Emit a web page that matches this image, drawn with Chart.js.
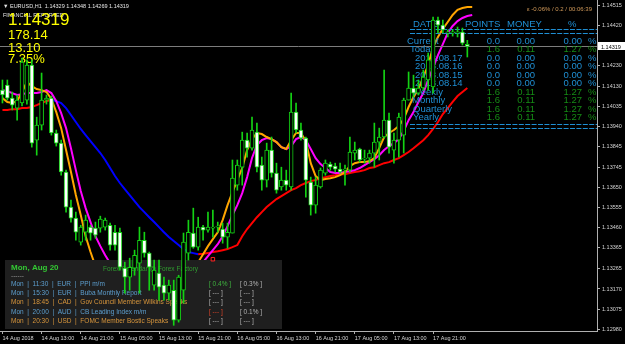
<!DOCTYPE html>
<html>
<head>
<meta charset="utf-8">
<script src="https://cdn.jsdelivr.net/npm/chart.js@4.4.1/dist/chart.umd.min.js"></script>
<style>
  html, body { margin: 0; padding: 0; background: #000; overflow: hidden; }
</style>
</head>
<body>
<canvas id="c" width="625" height="344"></canvas>
<script>
// EURUSD H1 candles, 14 Aug 05:00 .. 20 Aug 04:00
const opens = [
  1.14112, 1.14136, 1.14074, 1.14027, 1.14051, 1.14065, 1.14231, 1.13875, 1.13946, 1.14065,
  1.14074, 1.13909, 1.13861, 1.13724, 1.13558, 1.13506, 1.13392, 1.13439, 1.13463, 1.13458,
  1.13458, 1.13463, 1.13472, 1.13439, 1.13439, 1.13269, 1.13226, 1.13269, 1.13292, 1.13401,
  1.13340, 1.13188, 1.13245, 1.13188, 1.13150, 1.13164, 1.13022, 1.13164, 1.13340, 1.13435,
  1.13368, 1.13463, 1.13449, 1.13458, 1.13463, 1.13454, 1.13416, 1.13435, 1.13662, 1.13747,
  1.13875, 1.13837, 1.13913, 1.13757, 1.13686, 1.13828, 1.13719, 1.13653, 1.13686, 1.13653,
  1.14008, 1.13923, 1.13885, 1.13676, 1.13567, 1.13653, 1.13719, 1.13762, 1.13752, 1.13738,
  1.13733, 1.13733, 1.13814, 1.13833, 1.13785, 1.13790, 1.13814, 1.13866, 1.13890, 1.13970,
  1.13828, 1.13875, 1.13899, 1.14065, 1.14122, 1.14098, 1.14122, 1.14160, 1.14127, 1.14444,
  1.14420, 1.14383, 1.14383, 1.14383, 1.14387, 1.14329
];
const highs = [
  1.14160, 1.14160, 1.14103, 1.14089, 1.14264, 1.14255, 1.14255, 1.13984, 1.14193, 1.14089,
  1.14084, 1.13923, 1.13875, 1.13733, 1.13591, 1.13534, 1.13472, 1.13520, 1.13472, 1.13487,
  1.13515, 1.13506, 1.13482, 1.13472, 1.13458, 1.13297, 1.13316, 1.13354, 1.13463, 1.13439,
  1.13345, 1.13307, 1.13307, 1.13226, 1.13212, 1.13212, 1.13235, 1.13435, 1.13496, 1.13553,
  1.13510, 1.13472, 1.13534, 1.13544, 1.13487, 1.13482, 1.13482, 1.13781, 1.13781, 1.13913,
  1.13909, 1.13984, 1.13956, 1.13795, 1.13861, 1.13890, 1.13766, 1.13747, 1.13733, 1.14098,
  1.14051, 1.13956, 1.13890, 1.13700, 1.13700, 1.13743, 1.13781, 1.13771, 1.13766, 1.13766,
  1.13757, 1.13890, 1.13866, 1.13837, 1.13828, 1.13828, 1.13956, 1.13932, 1.14207, 1.14003,
  1.13909, 1.14003, 1.14074, 1.14198, 1.14183, 1.14160, 1.14207, 1.14288, 1.14458, 1.14458,
  1.14444, 1.14397, 1.14397, 1.14411, 1.14406, 1.14348
];
const lows = [
  1.14051, 1.14065, 1.14018, 1.13970, 1.14037, 1.14046, 1.13842, 1.13804, 1.13923, 1.14046,
  1.13899, 1.13847, 1.13709, 1.13534, 1.13487, 1.13401, 1.13378, 1.13401, 1.13401, 1.13411,
  1.13439, 1.13449, 1.13354, 1.13354, 1.13259, 1.13150, 1.13164, 1.13235, 1.13150, 1.13321,
  1.13164, 1.13164, 1.13117, 1.13117, 1.13117, 1.12998, 1.13013, 1.13103, 1.13307, 1.13363,
  1.13354, 1.13401, 1.13439, 1.13416, 1.13439, 1.13387, 1.13363, 1.13435, 1.13638, 1.13662,
  1.13795, 1.13828, 1.13724, 1.13638, 1.13653, 1.13700, 1.13624, 1.13638, 1.13638, 1.13638,
  1.13909, 1.13875, 1.13605, 1.13520, 1.13529, 1.13648, 1.13709, 1.13733, 1.13724, 1.13719,
  1.13662, 1.13724, 1.13781, 1.13771, 1.13766, 1.13766, 1.13747, 1.13781, 1.13885, 1.13814,
  1.13766, 1.13795, 1.13814, 1.14065, 1.14079, 1.14089, 1.14112, 1.14112, 1.14098, 1.14383,
  1.14383, 1.14364, 1.14368, 1.14364, 1.14326, 1.14269
];
const closes = [
  1.14089, 1.14074, 1.14041, 1.14065, 1.14245, 1.14231, 1.13861, 1.13946, 1.14065, 1.14074,
  1.13909, 1.13861, 1.13724, 1.13558, 1.13506, 1.13439, 1.13463, 1.13496, 1.13435, 1.13425,
  1.13501, 1.13496, 1.13378, 1.13378, 1.13273, 1.13226, 1.13273, 1.13330, 1.13401, 1.13340,
  1.13273, 1.13259, 1.13179, 1.13150, 1.13188, 1.13022, 1.13226, 1.13392, 1.13439, 1.13368,
  1.13463, 1.13449, 1.13463, 1.13463, 1.13463, 1.13416, 1.13439, 1.13695, 1.13757, 1.13875,
  1.13837, 1.13923, 1.13747, 1.13686, 1.13828, 1.13719, 1.13638, 1.13686, 1.13662, 1.14008,
  1.13923, 1.13885, 1.13686, 1.13567, 1.13662, 1.13733, 1.13766, 1.13747, 1.13738, 1.13724,
  1.13733, 1.13819, 1.13828, 1.13781, 1.13790, 1.13814, 1.13866, 1.13890, 1.13970, 1.13842,
  1.13875, 1.13984, 1.14065, 1.14122, 1.14098, 1.14122, 1.14174, 1.14255, 1.14444, 1.14420,
  1.14397, 1.14387, 1.14383, 1.14387, 1.14335, 1.14319
];

// moving averages (slow one is blue when falling, red when rising)
const maSlow = [
  1.14018, 1.14018, 1.14022, 1.14022, 1.14027, 1.14027, 1.14032, 1.14041, 1.14051, 1.14060,
  1.14065, 1.14060, 1.14051, 1.14027, 1.13994, 1.13961, 1.13928, 1.13899, 1.13871, 1.13842,
  1.13814, 1.13781, 1.13743, 1.13705, 1.13672, 1.13643, 1.13615, 1.13586, 1.13558, 1.13534,
  1.13510, 1.13487, 1.13463, 1.13439, 1.13416, 1.13397, 1.13378, 1.13359, 1.13345, 1.13340,
  1.13335, 1.13337, 1.13340, 1.13345, 1.13349, 1.13354, 1.13359, 1.13368, 1.13378, 1.13420,
  1.13454, 1.13482, 1.13510, 1.13534, 1.13558, 1.13577, 1.13596, 1.13610, 1.13624, 1.13638,
  1.13648, 1.13662, 1.13672, 1.13681, 1.13686, 1.13695, 1.13700, 1.13705, 1.13709, 1.13714,
  1.13714, 1.13719, 1.13724, 1.13728, 1.13733, 1.13743, 1.13747, 1.13757, 1.13766, 1.13771,
  1.13781, 1.13790, 1.13804, 1.13819, 1.13837, 1.13856, 1.13875, 1.13899, 1.13928, 1.13961,
  1.13999, 1.14027, 1.14056, 1.14084, 1.14103, 1.14122
];
const maMid = [
  1.14112, 1.14108, 1.14098, 1.14089, 1.14093, 1.14098, 1.14098, 1.14098, 1.14103, 1.14112,
  1.14098, 1.14060, 1.14003, 1.13932, 1.13837, 1.13733, 1.13634, 1.13553, 1.13487, 1.13420,
  1.13373, 1.13330, 1.13292, 1.13259, 1.13226, 1.13198, 1.13169, 1.13145, 1.13126, 1.13112,
  1.13103, 1.13098, 1.13098, 1.13103, 1.13112, 1.13131, 1.13155, 1.13183, 1.13217, 1.13250,
  1.13278, 1.13297, 1.13326, 1.13354, 1.13382, 1.13420, 1.13468, 1.13520, 1.13567, 1.13624,
  1.13700, 1.13790, 1.13852, 1.13875, 1.13885, 1.13880, 1.13866, 1.13842, 1.13833, 1.13847,
  1.13880, 1.13890, 1.13875, 1.13833, 1.13790, 1.13762, 1.13743, 1.13724, 1.13719, 1.13719,
  1.13724, 1.13728, 1.13733, 1.13743, 1.13757, 1.13771, 1.13785, 1.13804, 1.13828, 1.13847,
  1.13861, 1.13880, 1.13918, 1.13970, 1.14008, 1.14056, 1.14098, 1.14160, 1.14217, 1.14278,
  1.14330, 1.14383, 1.14416, 1.14439, 1.14454, 1.14463, 1.14468
];
const maFast = [
  1.14074, 1.14056, 1.14051, 1.14060, 1.14103, 1.14150, 1.14131, 1.14117, 1.14112, 1.14103,
  1.14070, 1.14008, 1.13932, 1.13828, 1.13724, 1.13615, 1.13520, 1.13420, 1.13345, 1.13278,
  1.13221, 1.13174, 1.13136, 1.13103, 1.13074, 1.13055, 1.13036, 1.13022, 1.13013, 1.13008,
  1.13008, 1.13013, 1.13022, 1.13036, 1.13055, 1.13079, 1.13117, 1.13164, 1.13217, 1.13269,
  1.13297, 1.13335, 1.13373, 1.13406, 1.13439, 1.13496, 1.13567, 1.13629, 1.13686, 1.13743,
  1.13828, 1.13880, 1.13909, 1.13904, 1.13890, 1.13880, 1.13866, 1.13842, 1.13833, 1.13875,
  1.13909, 1.13909, 1.13871, 1.13766, 1.13705, 1.13686, 1.13691, 1.13695, 1.13700, 1.13709,
  1.13724, 1.13752, 1.13766, 1.13771, 1.13771, 1.13776, 1.13790, 1.13837, 1.13890, 1.13909,
  1.13923, 1.13942, 1.13975, 1.14032, 1.14079, 1.14117, 1.14174, 1.14231, 1.14316, 1.14364,
  1.14402, 1.14435, 1.14468, 1.14492, 1.14501, 1.14506, 1.14506
];
// single signal box under the slow MA turn
const signalBar = 43;
const signalPrice = 1.13311;

const xTickLabels = [
  "14 Aug 2018", "14 Aug 13:00", "14 Aug 21:00", "15 Aug 05:00", "15 Aug 13:00", "15 Aug 21:00",
  "16 Aug 05:00", "16 Aug 13:00", "16 Aug 21:00", "17 Aug 05:00", "17 Aug 13:00", "17 Aug 21:00"
];
const yTickValues = [
  1.14515, 1.14420, 1.14230, 1.14130, 1.14035, 1.13940, 1.13845, 1.13745,
  1.13650, 1.13555, 1.13460, 1.13365, 1.13265, 1.13170, 1.13075, 1.12980
];

// info panels
const infoLines = ["1.14319", "178.14", "13.10", "7.35%"];
const tableRows = ["Current", "Today", "2018.08.17", "2018.08.16", "2018.08.15", "2018.08.14", "Weekly", "Monthly", "Quarterly", "Yearly"];
const tablePoints = ["0.0", "1.6", "0.0", "0.0", "0.0", "0.0", "1.6", "1.6", "1.6", "1.6"];
const tableMoney = ["0.00", "0.11", "0.00", "0.00", "0.00", "0.00", "0.11", "0.11", "0.11", "0.11"];
const tablePct = ["0.00", "1.27", "0.00", "0.00", "0.00", "0.00", "1.27", "1.27", "1.27", "1.27"];
const calTimes = ["11:30", "15:30", "18:45", "20:00", "20:30"];
const calCurrencies = ["EUR", "EUR", "CAD", "AUD", "USD"];
const calTitles = ["PPI m/m", "Buba Monthly Report", "Gov Council Member Wilkins Speaks", "CB Leading Index m/m", "FOMC Member Bostic Speaks"];
const calActual = ["0.4%", "---", "---", "---", "---"];
const calForecast = ["0.3%", "---", "---", "0.1%", "---"];
const calImpact = ["low", "low", "medium", "low", "medium"];

const SLOTS = 122; // chart width in bar slots (includes right shift)
const green = "#14d214";
const font = "Liberation Sans";

const wicks = highs.map((h, i) => [lows[i], h]);
const bodies = opens.map((o, i) => [o, closes[i]]);
const bodyColors = opens.map((o, i) => (closes[i] < o ? "#ffffff" : "#000000"));
const slots = Array.from({ length: SLOTS }, (_, i) => String(i));
const signal = opens.map((_, i) => (i === signalBar ? signalPrice : null));

function txt(c, s, x, y, color, size, opts = {}) {
  c.font = (opts.bold ? "bold " : "") + size + "px '" + font + "'";
  c.fillStyle = color;
  c.textAlign = opts.align || "left";
  c.textBaseline = "alphabetic";
  c.fillText(s, x, y);
}

const overlay = {
  id: "overlay",
  beforeDraw(chart) {
    const c = chart.ctx;
    c.save();
    c.fillStyle = "#000";
    c.fillRect(0, 0, chart.width, chart.height);
    c.restore();
  },
  // objects sit above the indicators but under the candles
  beforeDatasetDraw(chart, args) {
    if (args.index !== 3) return;
    const c = chart.ctx;
    const a = chart.chartArea;
    const ys = chart.scales.y;
    c.save();

    const by = Math.round(ys.getPixelForValue(closes[closes.length - 1])) + 0.5;
    c.strokeStyle = "#7c7c7c";
    c.lineWidth = 1;
    c.beginPath(); c.moveTo(a.left, by); c.lineTo(a.right, by); c.stroke();

    // header
    txt(c, "\u25BC EURUSD,H1  1.14329 1.14348 1.14269 1.14319", 3, 8, "#e6e6e6", 5.5);
    txt(c, "FINANCIAL REPORTED", 3, 17, "#e6e6e6", 5.5);
    txt(c, infoLines[0], 8, 25, "#ffff00", 17);
    txt(c, infoLines[1], 8, 39, "#ffff00", 13);
    txt(c, infoLines[2], 8, 52, "#ffff00", 13);
    txt(c, infoLines[3], 8, 63, "#ffff00", 13);
    txt(c, "\u03B5 -0.06% / 0.2 / 00:06:39", 592, 11, "#d29a5a", 6, { align: "right" });

    // account table
    const blue = "#1f8fd4", dgreen = "#158c15";
    txt(c, "DATE", 413, 27, blue, 9.5);
    txt(c, "POINTS", 465, 27, blue, 9.5);
    txt(c, "MONEY", 507, 27, blue, 9.5);
    txt(c, "%", 568, 27, blue, 9.5);
    c.strokeStyle = blue;
    c.setLineDash([5, 1.4]);
    [29.5, 33.5, 124.5, 128.5].forEach(y => {
      c.beginPath(); c.moveTo(410, y); c.lineTo(597, y); c.stroke();
    });
    c.setLineDash([]);
    const rowX = [407, 410, 415, 415, 415, 415, 412, 412, 413, 413];
    tableRows.forEach((r, i) => {
      const y = 43.5 + i * 8.55;
      const col = parseFloat(tablePoints[i]) > 0 ? dgreen : blue;
      txt(c, r, rowX[i], y, blue, 9.5);
      txt(c, tablePoints[i], 500, y, col, 9.5, { align: "right" });
      txt(c, tableMoney[i], 535, y, col, 9.5, { align: "right" });
      txt(c, tablePct[i], 582, y, col, 9.5, { align: "right" });
      txt(c, "%", 588, y, col, 9.5);
    });

    // calendar box
    c.fillStyle = "#1f1f1f";
    c.fillRect(5, 260, 277, 69);
    txt(c, "Mon, Aug 20", 11, 270, "#33c833", 8, { bold: true });
    txt(c, "Forex Calendar @ Forex Factory", 103, 271, "#2f9a2f", 6.5);
    txt(c, "------", 11, 278, "#9a9a9a", 6.5);
    calTimes.forEach((t, i) => {
      const y = 285.6 + i * 9.4;
      const col = calImpact[i] === "medium" ? "#d8963c" : "#5d9fcf";
      txt(c, "Mon  |  " + t + "  |  " + calCurrencies[i] + "  |  " + calTitles[i], 11, y, col, 6.5);
      const aCol = i === 0 ? "#3fb43f" : (i === 3 ? "#e0452a" : "#b4b4b4");
      txt(c, "[ " + calActual[i] + " ]", 209, y, aCol, 6.5);
      txt(c, "[ " + calForecast[i] + " ]", 240, y, "#b4b4b4", 6.5);
    });
    c.restore();
  },
  afterDraw(chart) {
    const c = chart.ctx;
    const ys = chart.scales.y;
    const y = Math.round(ys.getPixelForValue(closes[closes.length - 1]));
    c.save();
    c.fillStyle = "#ffffff";
    c.fillRect(598, y - 4, 27, 8);
    txt(c, closes[closes.length - 1].toFixed(5), 601, y + 2.5, "#000000", 5.5);
    c.restore();
  }
};

new Chart(document.getElementById("c"), {
  type: "bar",
  data: {
    labels: slots,
    datasets: [
      {
        type: "line", data: maSlow, borderColor: "#ff0000", borderWidth: 2, pointRadius: 0, order: 5,
        segment: { borderColor: s => (s.p1.parsed.y < s.p0.parsed.y ? "#0000ff" : "#ff0000") }
      },
      { type: "line", data: maMid, borderColor: "#ff00ff", borderWidth: 2, pointRadius: 0, order: 4 },
      { type: "line", data: maFast, borderColor: "#ffa500", borderWidth: 2, pointRadius: 0, order: 3 },
      { data: wicks, backgroundColor: green, barThickness: 1, grouped: false, order: 2 },
      {
        data: bodies, backgroundColor: bodyColors, borderColor: green, borderWidth: 1,
        borderSkipped: false, barThickness: 4, minBarLength: 1, grouped: false, order: 1
      },
      {
        type: "line", data: signal, showLine: false, pointStyle: "rect", pointRadius: 2.5,
        pointBorderColor: "#ff2020", pointBackgroundColor: "rgba(0,0,0,0)", pointBorderWidth: 1, order: 1.5
      }
    ]
  },
  options: {
    responsive: false,
    animation: false,
    devicePixelRatio: 1,
    events: [],
    layout: { padding: 0, autoPadding: false },
    plugins: { legend: { display: false }, tooltip: { enabled: false } },
    scales: {
      x: {
        offset: true,
        afterFit: s => { s.height = 13; s.paddingLeft = 0; s.paddingRight = 0; },
        border: { color: "#b0b0b0" },
        grid: {
          drawOnChartArea: false, offset: false, tickLength: 3,
          tickColor: ctx => (ctx.index % 8 === 0 && ctx.index / 8 < xTickLabels.length ? "#b0b0b0" : "rgba(0,0,0,0)")
        },
        ticks: {
          autoSkip: false, maxRotation: 0, align: "start", padding: 1, color: "#d4d4d4",
          font: { family: font, size: 5.5 },
          callback: (v, i) => (i % 8 === 0 && i / 8 < xTickLabels.length ? xTickLabels[i / 8] : "")
        }
      },
      y: {
        position: "right",
        min: 1.12971,
        max: 1.14539,
        afterBuildTicks: s => { s.ticks = yTickValues.map(v => ({ value: v })); },
        afterFit: s => { s.width = 28; s.paddingTop = 0; s.paddingBottom = 0; },
        border: { color: "#b0b0b0" },
        grid: { drawOnChartArea: false, tickLength: 3, tickColor: "#b0b0b0" },
        ticks: {
          autoSkip: false, padding: 2, color: "#d4d4d4",
          font: { family: font, size: 5.5 },
          callback: v => v.toFixed(5)
        }
      }
    }
  },
  plugins: [overlay]
});
</script>
</body>
</html>
